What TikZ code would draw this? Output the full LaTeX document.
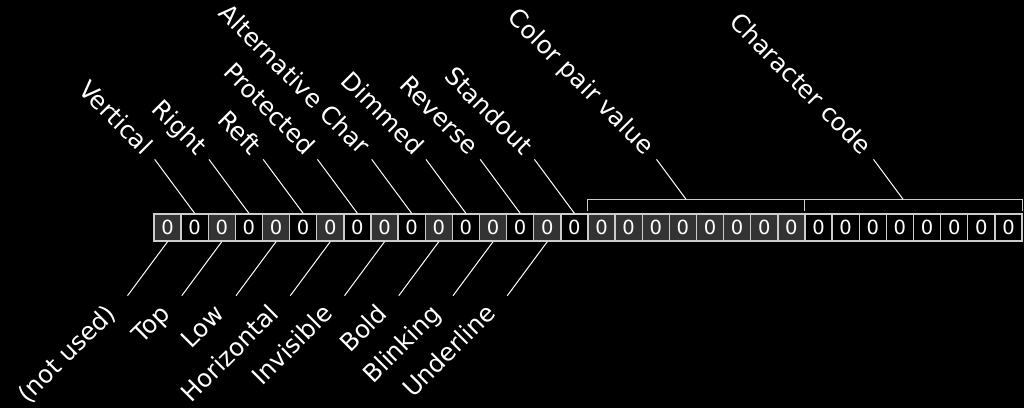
\documentclass[tikz,border=0pt]{standalone}
\usepackage{fontspec}
\setmainfont{DejaVu Sans}
\usetikzlibrary{positioning,calc}
\definecolor{cellgray}{HTML}{333333}
\definecolor{edgegray}{HTML}{CCCCCC}
\tikzstyle{bit} = [draw=edgegray, line width=1.3pt, rectangle,
    minimum width=27.125pt, minimum height=27pt, inner sep=0pt,
    text=white, font=\fontsize{19.5}{19.5}\selectfont]
\tikzstyle{shaded} = [fill=cellgray]
\tikzstyle{label} = [text=white, anchor=east, text height=13pt,
    text depth=0pt, inner ysep=0pt, font=\fontsize{24.5}{24.5}\selectfont]
\tikzstyle{toplabel} = [label, rotate=-45, inner xsep=11pt]
\tikzstyle{botlabel} = [label, rotate=45, inner xsep=21pt]
\tikzstyle{lead} = [draw=white, line width=1pt]
\tikzstyle{brace} = [draw=edgegray, line width=1.3pt]

\begin{document}
\begin{tikzpicture}[x=1pt, y=1pt, node distance=27.125pt]
    % We start with the black page
    \fill[black] (0,0) rectangle (1024,408);
    \useasboundingbox (0,0) rectangle (1024,408);

    % We place the 32 bits, one next to the other
    \node [bit, shaded] (bit0) at (167.5625,180.5) {0};
    \foreach \i in {1,...,31} {
        \pgfmathtruncatemacro{\j}{\i-1}
        \pgfmathtruncatemacro{\odd}{mod(\i,2)}
        \ifnum\i>15
            \ifnum\i<24 \def\look{shaded}\else\def\look{}\fi
        \else
            \ifnum\odd=1 \def\look{}\else\def\look{shaded}\fi
        \fi
        \node [bit, \look, right of=bit\j] (bit\i) {0};
    }

    % The two brackets over the colour pair and the character code
    \draw [brace] ($(bit16.north west)+(0,2)$) |- ($(bit31.north east)+(0,14)$)
        -- ++(0,-12);
    \draw [brace] ($(bit24.north west)+(0,2)$) -- ++(0,12);
    \coordinate (cpv) at ($(bit16.north west)!0.5!(bit23.north east)+(-10.4,14)$);
    \coordinate (chc) at ($(bit24.north west)!0.5!(bit31.north east)+(-10.4,14)$);

    % Labels above the odd bits
    \foreach \i/\txt in {1/Vertical, 3/Right, 5/Reft, 7/Protected,
            9/Alternative Char, 11/Dimmed, 13/Reverse, 15/Standout} {
        \node [toplabel] (top\i) at ($(bit\i.north)+(-40,54)$) {\txt};
        \draw [lead] (bit\i.north) -- (top\i.east);
    }
    \node [toplabel] (cpvlabel) at ($(cpv)+(-29.6,40)$) {Color pair value};
    \node [toplabel] (chclabel) at ($(chc)+(-29.6,40)$) {Character code};
    \draw [lead] (cpv) -- (cpvlabel.east);
    \draw [lead] (chc) -- (chclabel.east);

    % Labels below the even bits
    \foreach \i/\txt in {0/(not used), 2/Top, 4/Low, 6/Horizontal,
            8/Invisible, 10/Bold, 12/Blinking, 14/Underline} {
        \node [botlabel] (bot\i) at ($(bit\i.south)+(-40,-54)$) {\txt};
        \draw [lead] (bit\i.south) -- (bot\i.east);
    }
\end{tikzpicture}
\end{document}
